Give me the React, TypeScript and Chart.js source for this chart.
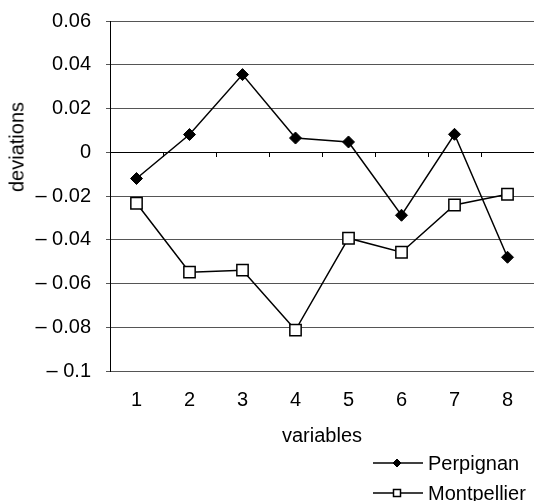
import React, { useEffect, useRef } from "react";
import { Chart, registerables } from "chart.js";

Chart.register(...registerables);

const categories = ["1", "2", "3", "4", "5", "6", "7", "8"];
const perpignan = [-0.012, 0.0081, 0.0355, 0.0065, 0.0047, -0.0288, 0.0082, -0.048];
const montpellier = [-0.0233, -0.0548, -0.0539, -0.0813, -0.0393, -0.0457, -0.0241, -0.0192];
const yMin = -0.1;
const yMax = 0.06;
const yStep = 0.02;
const seriesNames = ["Perpignan", "Montpellier"];
const xTitle = "variables";
const yTitle = "deviations";

const FONT = "'Liberation Sans', Arial, Helvetica, sans-serif";

function fmt(v: number): string {
  if (Math.abs(v) < 1e-9) return "0";
  const s = parseFloat(Math.abs(v).toFixed(2)).toString();
  return v < 0 ? "\u2013 " + s : s;
}

export default function App() {
  const ref = useRef<HTMLCanvasElement | null>(null);

  useEffect(() => {
    if (!ref.current) return;
    const chart = new Chart(ref.current, {
      type: "line",
      data: {
        labels: categories,
        datasets: [
          {
            label: seriesNames[0],
            data: perpignan,
            borderColor: "#000",
            borderWidth: 1.5,
            pointStyle: "rectRot",
            pointRadius: 6,
            pointBackgroundColor: "#000",
            pointBorderColor: "#000",
            pointBorderWidth: 1,
            tension: 0,
            xAxisID: "x",
          },
          {
            label: seriesNames[1],
            data: montpellier,
            borderColor: "#000",
            borderWidth: 1.5,
            pointStyle: "rect",
            pointRadius: 8,
            pointBackgroundColor: "#fff",
            pointBorderColor: "#000",
            pointBorderWidth: 1.5,
            tension: 0,
            xAxisID: "x",
          },
        ],
      },
      options: {
        animation: false,
        responsive: false,
        layout: { autoPadding: false, padding: { top: 21, right: 0, bottom: 50, left: 0 } },
        plugins: { legend: { display: false }, tooltip: { enabled: false } },
        scales: {
          x: {
            type: "category",
            position: "bottom",
            offset: true,
            grid: { display: false, drawTicks: false },
            border: { display: false },
            ticks: {
              color: "#000",
              padding: 17,
              font: { family: FONT, size: 20 },
              maxRotation: 0,
            },
            title: {
              display: true,
              text: xTitle,
              color: "#000",
              font: { family: FONT, size: 20 },
              padding: { top: 0, bottom: 3 },
            },
            afterFit: (s: any) => {
              s.height = 80;
              s.paddingLeft = 0;
              s.paddingRight = 0;
            },
          },
          x2: {
            type: "category",
            axis: "x",
            position: { y: 0 },
            offset: true,
            grid: {
              display: true,
              drawOnChartArea: false,
              drawTicks: true,
              tickLength: 4,
              offset: true,
              color: "#000",
              lineWidth: 1,
            },
            border: { display: true, color: "#000", width: 1 },
            ticks: { display: false },
            afterFit: (s: any) => {
              s.paddingLeft = 0;
              s.paddingRight = 0;
            },
          },
          y: {
            type: "linear",
            min: yMin,
            max: yMax,
            grid: { color: "#555", lineWidth: 1, tickLength: 4, drawTicks: true },
            border: { display: true, color: "#000", width: 1 },
            ticks: {
              stepSize: yStep,
              color: "#000",
              padding: 15,
              font: { family: FONT, size: 20 },
              callback: (v: any) => fmt(Number(v)),
            },
            afterFit: (s: any) => {
              s.width = 110;
              s.paddingTop = 0;
              s.paddingBottom = 0;
            },
          },
        },
      },
    } as any);
    return () => chart.destroy();
  }, []);

  const legendRow = (top: number, filled: boolean, name: string) => (
    <div
      style={{
        position: "absolute",
        left: 373,
        top: top,
        height: 24,
        display: "flex",
        alignItems: "center",
        fontFamily: FONT,
        fontSize: 20,
        color: "#000",
        whiteSpace: "nowrap",
      }}
    >
      <svg width={50} height={14} style={{ marginRight: 5 }}>
        <line x1={0} y1={7} x2={50} y2={7} stroke="#000" strokeWidth={1.5} />
        {filled ? (
          <polygon points="24,3 28,7 24,11 20,7" fill="#000" stroke="#000" strokeWidth={1} />
        ) : (
          <rect x={20.5} y={3.5} width={7} height={7} fill="#fff" stroke="#000" strokeWidth={1.5} />
        )}
      </svg>
      <span>{name}</span>
    </div>
  );

  return (
    <div style={{ position: "absolute", left: 0, top: 0, width: 534, height: 501, background: "#fff", overflow: "hidden" }}>
      <canvas ref={ref} width={534} height={501} style={{ display: "block" }} />
      <div
        style={{
          position: "absolute",
          left: 17,
          top: 147,
          transform: "translate(-50%, -50%) rotate(-90deg)",
          fontFamily: FONT,
          fontSize: 20,
          color: "#000",
          whiteSpace: "nowrap",
        }}
      >
        {yTitle}
      </div>
      {legendRow(451, true, seriesNames[0])}
      {legendRow(481, false, seriesNames[1])}
    </div>
  );
}
